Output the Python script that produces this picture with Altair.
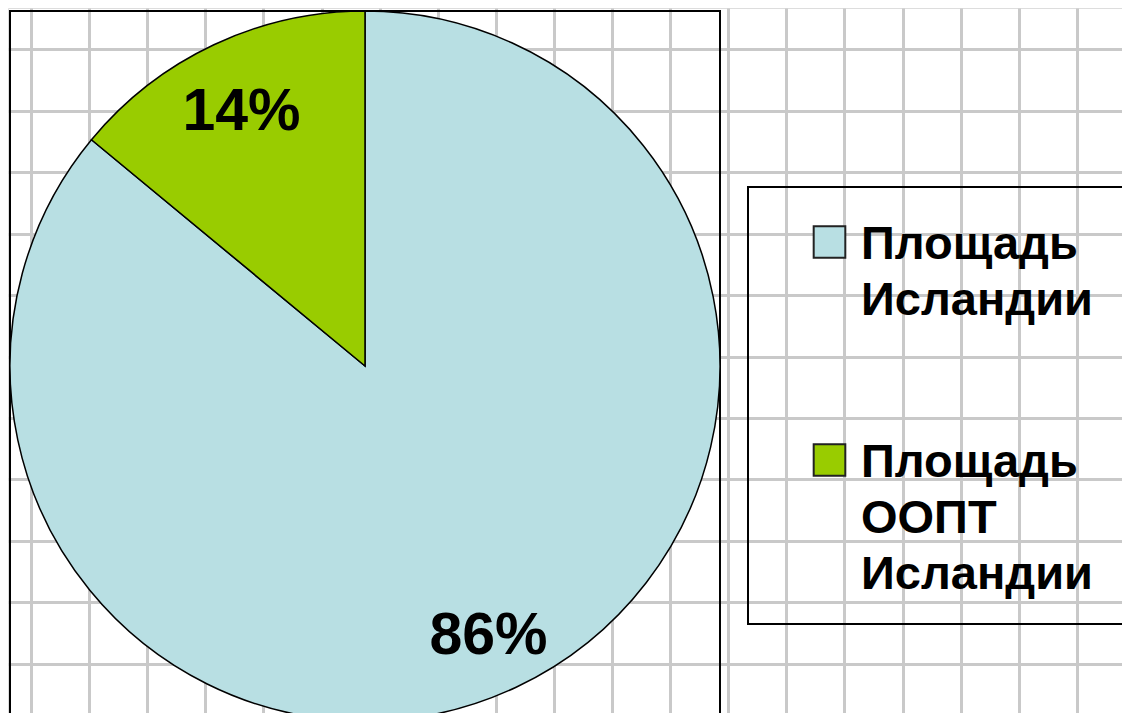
import altair as alt
import pandas as pd

# ---- data ----
categories = ["Площадь\nИсландии", "Площадь\nООПТ\nИсландии"]
values = [86, 14]
slice_colors = ["#B8DFE3", "#99CC00"]
slice_order = [0, 1]

# grid of the "notebook paper" background (tick values of hidden axes)
grid_cols = list(range(19))
grid_rows = list(range(11))

W, H = 1114, 705
FONT = "Liberation Sans"

df = pd.DataFrame({"cat": categories, "value": values, "ord": slice_order})
one = pd.DataFrame({"gx": [0], "gy": [0]})

grid = alt.Chart(one).mark_point(opacity=0).encode(
    x=alt.X("gx:Q",
            scale=alt.Scale(domain=[-0.396, 18.778], nice=False, zero=False),
            axis=alt.Axis(grid=True, values=grid_cols, labels=False, ticks=False,
                          domain=False, title=None, gridColor="#c9c9c9", gridWidth=3)),
    y=alt.Y("gy:Q",
            scale=alt.Scale(domain=[-0.667, 10.797], nice=False, zero=False, reverse=True),
            axis=alt.Axis(grid=True, values=grid_rows, labels=False, ticks=False,
                          domain=False, title=None, gridColor="#c9c9c9", gridWidth=3)),
)

frame = alt.Chart(one).mark_rect(fillOpacity=0, stroke="black", strokeWidth=2).encode(
    x=alt.value(2), x2=alt.value(712), y=alt.value(3), y2=alt.value(800)
)

legend_box = alt.Chart(one).mark_rect(fillOpacity=0, stroke="black", strokeWidth=2).encode(
    x=alt.value(740), x2=alt.value(1200), y=alt.value(179), y2=alt.value(616)
)

color = alt.Color(
    "cat:N",
    sort=categories,
    scale=alt.Scale(domain=categories, range=slice_colors),
    legend=alt.Legend(
        orient="none", legendX=798, legendY=190, title=None, padding=0,
        symbolType="M-1,0.3H1V2.3H-1Z", symbolSize=1000,
        symbolStrokeColor="#222222", symbolStrokeWidth=2, symbolOpacity=1,
        labelFont=FONT, labelFontSize=47, labelFontWeight="bold", labelColor="black",
        labelBaseline="top", labelOffset=8, labelLimit=500,
        labelExpr="split(datum.label, '\\n')", rowPadding=92,
    ),
)

pie = alt.Chart(df).mark_arc(outerRadius=355, stroke="black", strokeWidth=1.5).encode(
    theta=alt.Theta("value:Q", stack=True),
    color=color,
    order=alt.Order("ord:Q"),
    x=alt.value(357), y=alt.value(358),
)

labels = alt.Chart(df).transform_calculate(
    pct="datum.value + '%'"
).mark_text(radius=290, dy=8, fontSize=59, fontWeight="bold", font=FONT, color="black").encode(
    theta=alt.Theta("value:Q", stack=True),
    order=alt.Order("ord:Q"),
    text="pct:N",
    x=alt.value(357), y=alt.value(358),
)

chart = alt.layer(grid, frame, legend_box, pie, labels).properties(
    width=W, height=H, autosize="none", padding=0
).configure_view(strokeWidth=0).configure(
    style={"guide-label": {"lineHeight": 56}}
)

chart.save("out.html", embed_options={"renderer": "svg", "actions": False})
